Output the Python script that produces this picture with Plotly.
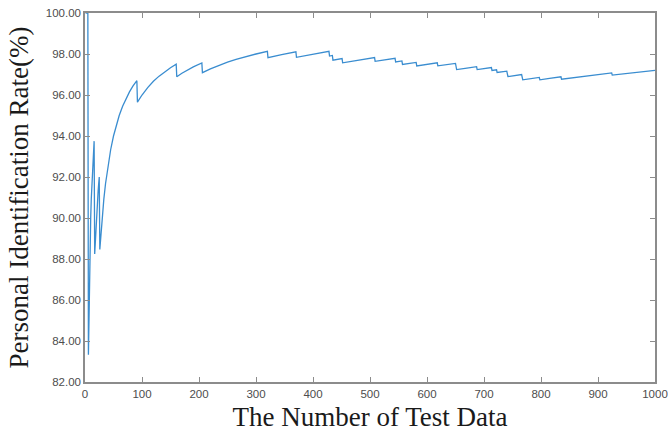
import plotly.graph_objects as go

# Cumulative personal identification rate (%) against the number of test data.
# Points are the curve's corners (before / after each misidentification) plus
# readings along the rising stretches in between.
test_count = [
    1, 5, 6, 7, 8, 9, 10, 11, 12, 13, 14, 15, 16,
    17, 18, 19, 20, 21, 22, 23, 24, 25,
    26, 28, 30, 33, 36, 40, 45, 50, 55, 60, 66, 72, 78, 84, 91,
    92, 100, 110, 120, 130, 140, 150, 160,
    161, 170, 180, 190, 205,
    206, 220, 235, 250, 265, 280, 300, 320,
    321, 345, 370,
    371, 400, 428,
    429, 434, 435, 451, 452, 480, 508,
    509, 544, 545, 556, 557, 581, 582, 600, 618, 619, 650, 651,
    652, 670, 687, 688, 713, 714, 722, 723, 740, 741,
    742, 766, 767, 768, 797, 798, 815, 835, 836, 880, 924,
    925, 960, 1000,
]
identification_rate = [
    100.00, 100.00, 83.33, 85.71, 87.50, 88.89, 90.00, 90.91, 91.67, 92.31, 92.86, 93.33, 93.75,
    88.24, 88.89, 89.47, 90.00, 90.48, 90.91, 91.30, 91.67, 92.00,
    88.46, 89.29, 90.00, 90.91, 91.67, 92.50, 93.33, 94.00, 94.55, 95.00, 95.45, 95.83, 96.15, 96.43, 96.70,
    95.65, 96.00, 96.36, 96.67, 96.92, 97.14, 97.33, 97.50,
    96.89, 97.06, 97.22, 97.37, 97.56,
    97.09, 97.27, 97.45, 97.60, 97.74, 97.86, 98.00, 98.13,
    97.82, 97.97, 98.11,
    97.84, 98.00, 98.13,
    97.90, 97.93, 97.70, 97.78, 97.57, 97.71, 97.83,
    97.64, 97.79, 97.61, 97.66, 97.49, 97.59, 97.42, 97.50, 97.57, 97.42, 97.54, 97.39,
    97.24, 97.31, 97.38, 97.24, 97.34, 97.20, 97.23, 97.10, 97.16, 97.03,
    96.90, 97.00, 96.87, 96.74, 96.86, 96.74, 96.81, 96.89, 96.77, 96.93, 97.08,
    96.97, 97.08, 97.20,
]

x_ticks = [0, 100, 200, 300, 400, 500, 600, 700, 800, 900, 1000]
y_ticks = [82, 84, 86, 88, 90, 92, 94, 96, 98, 100]

axis_color = "#8c8c8c"
label_font = dict(family="Liberation Sans, Arial, sans-serif", size=11.5, color="#4d4d4d")
title_font = dict(family="Liberation Serif, Times New Roman, serif", size=27, color="#1a1a1a")

fig = go.Figure(
    go.Scatter(
        x=test_count,
        y=identification_rate,
        mode="lines",
        line=dict(color="#3a8dd0", width=1.3),
        showlegend=False,
    )
)

fig.update_layout(
    width=668,
    height=434,
    margin=dict(l=85, r=13, t=13, b=52),
    paper_bgcolor="white",
    plot_bgcolor="white",
)

fig.update_xaxes(
    range=[0, 1000],
    tickvals=x_ticks,
    ticktext=[str(v) for v in x_ticks],
    ticks="inside",
    ticklen=5,
    tickcolor=axis_color,
    showline=True,
    linecolor=axis_color,
    linewidth=1.5,
    mirror="ticks",
    showgrid=False,
    zeroline=False,
    tickfont=label_font,
    title=dict(text="The Number of Test Data", font=title_font, standoff=9),
    automargin=False,
)

fig.update_yaxes(
    range=[82, 100],
    tickvals=y_ticks,
    ticktext=[f"{v:.2f}" for v in y_ticks],
    ticks="inside",
    ticklen=5,
    tickcolor=axis_color,
    showline=True,
    linecolor=axis_color,
    linewidth=1.5,
    mirror="ticks",
    showgrid=False,
    zeroline=False,
    tickfont=label_font,
    title=dict(text="Personal Identification Rate(%)", font=title_font, standoff=9),
    automargin=False,
)

fig.write_html("out.html")
